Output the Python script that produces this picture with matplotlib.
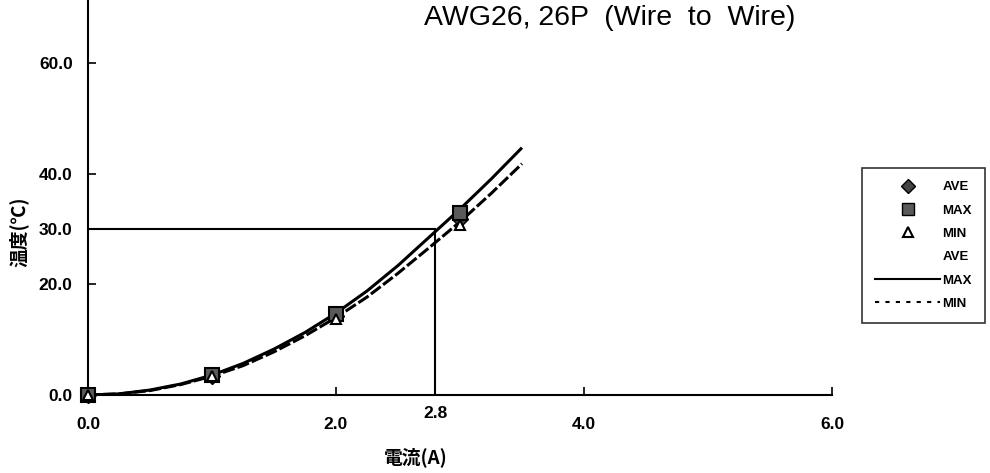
import matplotlib
matplotlib.use("Agg")
import matplotlib.pyplot as plt
from matplotlib.lines import Line2D

plt.rcParams['font.family'] = ['Liberation Sans', 'Noto Sans CJK JP', 'DejaVu Sans']

# --- measured points (current A, temperature rise degC) ---
current = [0.0, 1.0, 2.0, 3.0]
temp_ave = [0.0, 3.5, 14.3, 31.8]
temp_max = [0.0, 3.6, 14.6, 32.9]
temp_min = [0.0, 3.4, 13.8, 30.7]

# --- trend curves ---
curve_x = [0.0, 0.25, 0.5, 0.75, 1.0, 1.25, 1.5, 1.75, 2.0, 2.25, 2.5, 2.75, 3.0, 3.25, 3.5]
curve_max = [0.0, 0.2, 0.9, 2.0, 3.6, 5.7, 8.3, 11.3, 14.8, 18.8, 23.4, 28.5, 33.6, 39.0, 44.7]
curve_min = [0.0, 0.2, 0.8, 1.9, 3.4, 5.3, 7.8, 10.7, 14.0, 17.7, 22.0, 26.6, 31.3, 36.4, 41.8]

# rated point
rated_i = 2.8
rated_t = 30.0

x_ticks = [0.0, 2.0, 4.0, 6.0]
y_ticks = [0.0, 20.0, 30.0, 40.0, 60.0]

fig = plt.figure(figsize=(9.9, 4.73), dpi=100)
ax = fig.add_axes([88 / 990, 78 / 473, (832 - 88) / 990, 395 / 473])

ax.plot(curve_x, curve_max, color='black', lw=2.2, solid_capstyle='butt')
ax.plot(curve_x, curve_min, color='black', lw=2.2, linestyle=(0, (4, 1.0)))

ax.plot([0, rated_i], [rated_t, rated_t], color='black', lw=1.5)
ax.plot([rated_i, rated_i], [0, rated_t], color='black', lw=1.5)

ax.plot(current, temp_ave, linestyle='none', marker='D', ms=8, mfc='#444444',
        mec='black', clip_on=False, zorder=4)
ax.plot(current, temp_max, linestyle='none', marker='s', ms=10, mfc='#5a5a5a',
        mec='black', mew=1.5, clip_on=False, zorder=5)
ax.plot(current, temp_min, linestyle='none', marker='^', ms=7, mfc='white',
        mec='black', mew=1.5, clip_on=False, zorder=6)

ax.set_xlim(0, 6)
ax.set_ylim(0, 395 / 5.533)

for s in ['top', 'right']:
    ax.spines[s].set_visible(False)
for s in ['left', 'bottom']:
    ax.spines[s].set_linewidth(1.5)

ax.set_xticks(x_ticks)
ax.set_xticklabels(['%.1f' % v for v in x_ticks], fontsize=12.5, fontweight='bold')
ax.set_yticks(y_ticks)
ax.set_yticklabels(['%.1f' % v for v in y_ticks], fontsize=12.5, fontweight='bold')
ax.tick_params(axis='both', direction='in', length=6, width=1.2)
ax.tick_params(axis='x', pad=16)
ax.tick_params(axis='y', pad=11)

ax.text(rated_i, -2.0, '2.8', transform=ax.transData, ha='center', va='top',
        fontsize=12.5, fontweight='bold', clip_on=False)

fig.text(416 / 990, 1 - 457 / 473, '電流(A)', ha='center', va='center',
         fontsize=13.5, fontweight='bold', family=['Noto Sans CJK JP'])
fig.text(19 / 990, 1 - 232 / 473, '温度(℃)', ha='center', va='center', rotation=90,
         fontsize=13.5, fontweight='bold', family=['Noto Sans CJK JP'])

# title sits right at the top edge, as in the scanned original
fig.text(424 / 990, 1 - 25 / 473, 'AWG26, 26P  (Wire  to  Wire)', ha='left',
         va='baseline', fontsize=20.5, family=['Liberation Sans'])

handles = [
    Line2D([], [], linestyle='none', marker='D', ms=7, mfc='#444444', mec='black'),
    Line2D([], [], linestyle='none', marker='s', ms=8, mfc='#5a5a5a', mec='black'),
    Line2D([], [], linestyle='none', marker='^', ms=7, mfc='white', mec='black', mew=1.5),
    Line2D([], [], linestyle='none'),
    Line2D([], [], color='black', lw=1.5),
    Line2D([], [], color='black', lw=1.5, linestyle=(0, (2, 3))),
]
labels = ['AVE', 'MAX', 'MIN', 'AVE', 'MAX', 'MIN']
leg = fig.legend(handles, labels, loc='upper left', bbox_to_anchor=(862 / 990, 1 - 168 / 473),
                 frameon=True, fancybox=False, edgecolor='black',
                 prop={'weight': 'bold', 'size': 9.5}, handlelength=4.9, handletextpad=0.2,
                 borderpad=1.0, borderaxespad=0, labelspacing=0.84)
leg.get_frame().set_linewidth(1.2)

fig.savefig('out.png', dpi=100)
